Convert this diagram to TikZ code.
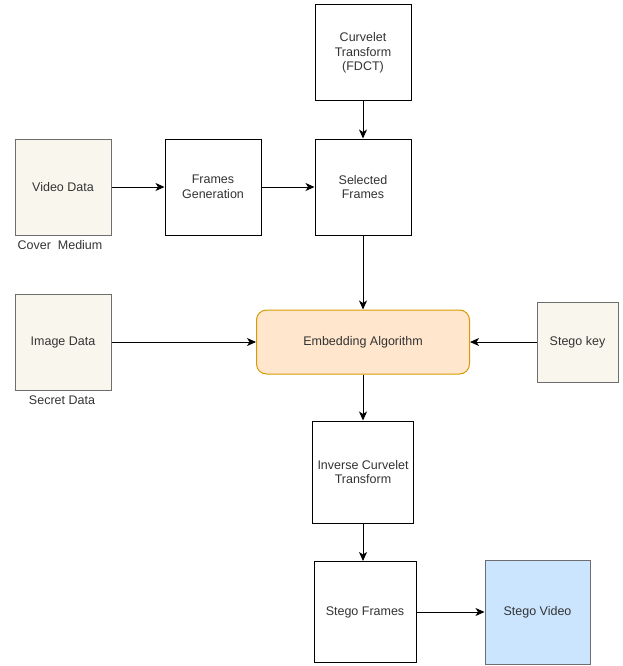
\documentclass[tikz,border=0pt]{standalone}
\usepackage{fontspec}
\setmainfont{Liberation Sans}
\usetikzlibrary{arrows.meta,positioning}
\definecolor{txtgray}{HTML}{333333}
\definecolor{coverfill}{HTML}{F9F7ED}
\definecolor{coverline}{HTML}{6E6E6E}
\definecolor{embfill}{HTML}{FFE6CC}
\definecolor{embline}{HTML}{D79B00}
\definecolor{vidfill}{HTML}{CCE5FF}
\tikzset{
  procbox/.style = {draw=black, line width=1pt, fill=white, align=center, text=txtgray, minimum width=96pt, minimum height=96pt, inner sep=2pt, font=\fontsize{12.5}{14.5}\selectfont},
  databox/.style = {procbox, draw=coverline, fill=coverfill},
  embedbox/.style = {procbox, draw=embline, fill=embfill, rounded corners=10pt, minimum width=213pt, minimum height=64pt},
  outbox/.style = {procbox, draw=coverline, fill=vidfill},
  caption/.style = {text=txtgray, inner sep=0pt, font=\fontsize{12.5}{14.5}\selectfont},
  flow/.style = {-{Stealth[length=9pt,width=8pt,inset=2.5pt]}, line width=1pt, black},
}
\begin{document}
\begin{tikzpicture}[x=1pt, y=-1pt]
\useasboundingbox (0,0) rectangle (622,666);

% Inputs
\node[databox] (video) at (63,187) {Video Data};
\node[caption] (cover) at (60,245) {Cover\ \ Medium};
\node[databox] (image) at (63,342) {Image Data};
\node[caption] (secret) at (62,400) {Secret Data};
\node[databox, minimum width=81pt, minimum height=80pt] (key) at (577.5,342) {Stego key};

% Processing chain
\node[procbox] (curvelet) at (363,53) {Curvelet\\Transform\\(FDCT)};
\node[procbox] (framegen) at (213,187) {Frames\\Generation};
\node[procbox] (selected) at (363,187) {Selected\\Frames};
\node[embedbox] (embed) at (363,342) {Embedding Algorithm};
\node[procbox, minimum width=101pt, minimum height=102pt] (inverse) at (363,472) {Inverse Curvelet\\Transform};
\node[procbox, minimum width=102pt, minimum height=101pt] (sframes) at (365,612) {Stego Frames};
\node[outbox, minimum width=105pt, minimum height=104pt] (svideo) at (537.5,612) {Stego Video};

% Connectors
\draw[flow] (curvelet) -- (selected);
\draw[flow] (video) -- (framegen);
\draw[flow] (framegen) -- (selected);
\draw[flow] (selected) -- (embed);
\draw[flow] (image) -- (embed);
\draw[flow] (key) -- (embed);
\draw[flow] (embed) -- (inverse);
\draw[flow] (inverse.south) -- (inverse.south |- sframes.north);
\draw[flow] (sframes) -- (svideo);

\end{tikzpicture}
\end{document}
